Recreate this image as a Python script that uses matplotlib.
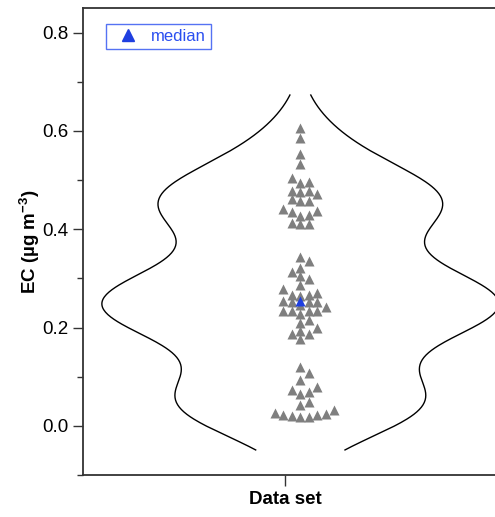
import numpy as np
import matplotlib
matplotlib.use("Agg")
import matplotlib.pyplot as plt
from matplotlib.mlab import GaussianKDE
from matplotlib.lines import Line2D

plt.rcParams["font.family"] = ["Liberation Sans", "DejaVu Sans"]
plt.rcParams["mathtext.fontset"] = "custom"
plt.rcParams["mathtext.bf"] = "Liberation Sans:bold"
plt.rcParams["mathtext.rm"] = "Liberation Sans"

# -----------------------
# data (EC, ug m-3)
# -----------------------
ec_high = [0.606, 0.586, 0.553, 0.533, 0.504, 0.496, 0.494, 0.478, 0.476,
           0.472, 0.478, 0.457, 0.461, 0.457, 0.435, 0.441, 0.437, 0.427,
           0.429, 0.410, 0.412, 0.410]
ec_mid = [0.343, 0.335, 0.322, 0.312, 0.298, 0.304, 0.286, 0.271, 0.278,
          0.251, 0.267, 0.251, 0.253, 0.265, 0.267, 0.251, 0.245, 0.233,
          0.233, 0.233, 0.233, 0.227, 0.216, 0.210, 0.200, 0.192, 0.186,
          0.186, 0.176, 0.241]
ec_low = [0.120, 0.108, 0.094, 0.080, 0.073, 0.065, 0.069, 0.043, 0.049,
          0.033, 0.024, 0.022, 0.018, 0.018, 0.020, 0.022, 0.027]

category = "Data set"

ec = np.array(ec_low + ec_mid + ec_high)
ec_median = np.median(ec)

# -----------------------
# figure
# -----------------------
fig = plt.figure(figsize=(4.95, 5.17), dpi=100)
ax = fig.add_axes([0.1677, 0.0812, 0.84, 0.9033])
ax.set_xlim(-1.095, 1.0)
ax.set_ylim(-0.1, 0.85)

# violin outline from a gaussian kde of the data
kde = GaussianKDE(ec, bw_method=0.38)
ext = 0.067
yy = np.linspace(ec.min() - ext, ec.max() + ext, 300)
dens = kde.evaluate(yy)
half = dens / dens.max()
ax.plot(half, yy, color="black", lw=1.0)
ax.plot(-half, yy, color="black", lw=1.0)

# simple swarm layout in pixel space
fig.canvas.draw()
to_px = ax.transData
pix = to_px.transform(np.column_stack([np.zeros_like(ec), ec]))
w, h = 8.5, 7.5
placed = []
xoff = np.zeros(len(ec))
for i in np.argsort(ec):
    py = pix[i, 1]
    cands = [0.0]
    for k in np.arange(0.5, 60, 0.5):
        cands += [k, -k]
    for c in cands:
        ok = True
        for qx, qy in placed:
            if abs(c - qx) < w and abs(py - qy) < h:
                ok = False
                break
        if ok:
            placed.append((c, py))
            xoff[i] = c
            break
pts = to_px.inverted().transform(np.column_stack([pix[:, 0] + xoff, pix[:, 1]]))

ax.scatter(pts[:, 0], pts[:, 1], marker="^", s=7.2**2, color="#7f7f7f",
           linewidths=0, zorder=3)
ax.scatter([0], [ec_median], marker="^", s=7.2**2, color="#1f3fe0",
           linewidths=0, zorder=4)

# axes styling
for side in ["left", "top", "bottom"]:
    ax.spines[side].set_color("#333333")
    ax.spines[side].set_linewidth(1.3)
ax.spines["right"].set_visible(False)

ax.set_yticks([0.0, 0.2, 0.4, 0.6, 0.8])
ax.set_yticks([-0.1, 0.1, 0.3, 0.5, 0.7], minor=True)
ax.tick_params(axis="y", which="major", length=7, width=1.0, labelsize=13.5,
               color="#333333")
ax.tick_params(axis="y", which="minor", length=4, width=1.0, color="#333333")
ax.set_xticks([-0.075])
ax.set_xticklabels([category], fontweight="bold", fontsize=13.5)
ax.tick_params(axis="x", length=8, width=1.0, color="#333333")

ax.set_ylabel("EC (µg m$^{\\mathbf{-3}}$)", fontweight="bold", fontsize=13.5,
              labelpad=0)

handle = Line2D([], [], marker="^", ls="none", color="#1f3fe0", markersize=8)
leg = ax.legend([handle], ["median"], loc="upper left",
                bbox_to_anchor=(0.055, 0.966), frameon=True, fancybox=False,
                fontsize=12, handlelength=2.0, handletextpad=0.4,
                borderpad=0.3, borderaxespad=0)
leg.get_frame().set_edgecolor("#2a4ff0")
leg.get_frame().set_linewidth(1.0)
for t in leg.get_texts():
    t.set_color("#2a4ff0")

fig.savefig("out.png", dpi=100)
